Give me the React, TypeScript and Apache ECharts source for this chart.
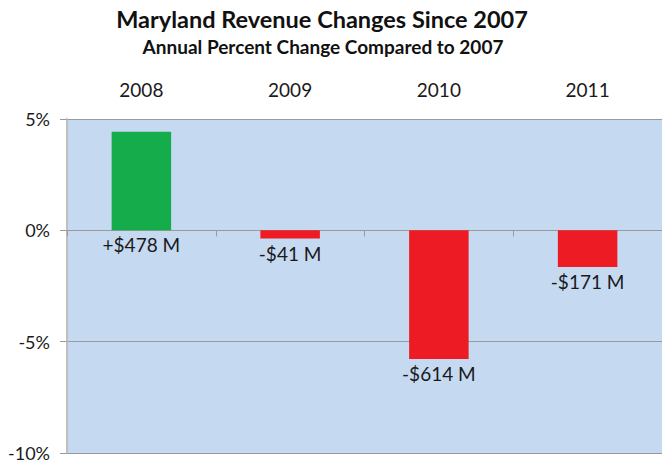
import React, { useEffect, useRef } from "react";
import * as echarts from "echarts";

const categories = ["2008", "2009", "2010", "2011"];
const percentChange = [4.43, -0.37, -5.78, -1.65];
const dollarLabels = ["+$478 M", "-$41 M", "-$614 M", "-$171 M"];
const yTicks = { min: -10, max: 5, interval: 5 };

const FONT = "Lato, 'Open Sans', sans-serif";

export default function App() {
  const ref = useRef<HTMLDivElement>(null);
  useEffect(() => {
    if (!ref.current) return;
    const chart = echarts.init(ref.current, undefined, { renderer: "svg" });
    chart.setOption({
      animation: false,
      backgroundColor: "#ffffff",
      textStyle: { fontFamily: FONT },
      title: [
        {
          text: "Maryland Revenue Changes Since 2007",
          left: 317,
          textAlign: "center",
          top: 2,
          textStyle: { fontFamily: FONT, fontSize: 23.5, fontWeight: "bold", color: "#111111" },
        },
        {
          text: "Annual Percent Change Compared to 2007",
          left: 318,
          textAlign: "center",
          top: 32,
          textStyle: { fontFamily: FONT, fontSize: 19, fontWeight: "bold", color: "#111111" },
        },
      ],
      grid: {
        left: 67,
        top: 119,
        width: 602,
        height: 334,
        show: true,
        backgroundColor: "#C5D9F1",
        borderWidth: 0,
      },
      xAxis: [
        {
          type: "category",
          data: categories,
          position: "top",
          axisLine: { show: false, onZero: false },
          axisTick: { show: false },
          axisLabel: { fontFamily: FONT, fontSize: 19, color: "#1a1a1a", margin: 20 },
          splitLine: { show: false },
        },
        {
          type: "category",
          data: categories,
          position: "bottom",
          axisLine: { show: true, onZero: true, lineStyle: { color: "#9a9a9a", width: 1 } },
          axisTick: { show: true, inside: false, length: 6, lineStyle: { color: "#9a9a9a" } },
          axisLabel: { show: false },
          splitLine: { show: false },
        },
      ],
      yAxis: {
        type: "value",
        min: yTicks.min,
        max: yTicks.max,
        interval: yTicks.interval,
        axisLine: { show: true, onZero: false, lineStyle: { color: "#bfbfbf", width: 2 } },
        axisTick: { show: true, length: 7, lineStyle: { color: "#9a9a9a" } },
        axisLabel: {
          formatter: "{value}%",
          fontFamily: FONT,
          fontSize: 18,
          color: "#1a1a1a",
          margin: 17,
        },
        splitLine: { show: true, lineStyle: { color: "#9a9a9a", width: 1 } },
      },
      series: [
        {
          type: "bar",
          xAxisIndex: 0,
          barWidth: "40%",
          data: percentChange.map((v, i) => ({
            value: v,
            itemStyle: { color: v >= 0 ? "#15AD4C" : "#ED1C24" },
            label: {
              show: true,
              position: "bottom",
              distance: 5,
              formatter: () => dollarLabels[i],
              fontFamily: FONT,
              fontSize: 19,
              color: "#1a1a1a",
            },
          })),
        },
      ],
    });
    return () => chart.dispose();
  }, []);
  return <div ref={ref} style={{ width: 662, height: 463, position: "absolute", left: 0, top: 0 }} />;
}
